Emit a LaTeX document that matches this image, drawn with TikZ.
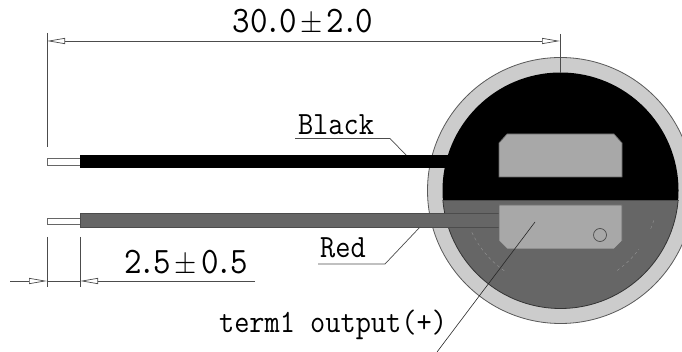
\documentclass[tikz,border=0pt]{standalone}
\usepackage{tikz}
\usetikzlibrary{positioning}
\usetikzlibrary{arrows.meta}
\tikzset{>={Triangle[open,fill=white,length=18pt,width=6pt]}}
\newcommand{\tallbox}[1]{\scalebox{1}[1.1]{#1}}
\newcommand{\plusminus}{\makebox[30pt]{\scalebox{1.15}{$\pm$}}}
\newcommand{\narrowdot}{\kern-3pt.\kern-3pt}

\begin{document}
\begin{tikzpicture}[x=1pt, y=-1pt, dimlabel/.style={inner sep=0pt, anchor=base, font=\fontsize{34}{34}\ttfamily}, wirelabel/.style={inner sep=0pt, anchor=base, font=\fontsize{29.5}{30}\ttfamily}, thin line/.style={draw=black!70, line width=0.7pt}, stub/.style={draw=black!60, fill=white, line width=0.9pt}, plate/.style={draw=black!60, fill=black!34, line width=0.7pt}, faint arc/.style={draw=black!42, line width=0.4pt, dashed}]

    \clip (0,0) rectangle (682,352);

    %Coordinates
    \coordinate (center) at (560.5,190.5);
    \coordinate (leftend) at (47,41);
    \coordinate (rightend) at (560,41);
    \coordinate (leftexttop) at (47,33);
    \coordinate (leftextbot) at (47,147);
    \coordinate (rightexttop) at (560,34);
    \coordinate (rightextbot) at (560,73);
    \coordinate (lenstart) at (47,281);
    \coordinate (lenstop) at (80,281);
    \coordinate (lenfarleft) at (10,281);
    \coordinate (lenfarright) at (255,281);
    \coordinate (stripa) at (47,237);
    \coordinate (stripb) at (47,287);
    \coordinate (stripc) at (80,237);
    \coordinate (stripd) at (80,287);

    %Body
    \draw[draw=black!65, fill=black!20, line width=0.8pt] (center) circle (133);
    \begin{scope}
        \clip (400,50) rectangle (682,200.7);
        \fill[black] (center) circle (118);
    \end{scope}
    \begin{scope}
        \clip (400,200.7) rectangle (682,352);
        \draw[draw=black!80, fill=black!60, line width=0.8pt] (center) circle (118);
        \draw[faint arc] (center) ++(154.7:98) arc (154.7:125:98);
        \draw[faint arc] (center) ++(54.7:98) arc (54.7:36.9:98);
        \draw[faint arc] (center) ++(23:98) arc (23:16.9:98);
    \end{scope}
    \draw[black!70, line width=0.6pt] (442.5,200.7) -- (678.5,200.7);

    %Wires
    \draw[stub] (47,158.5) rectangle (80,165.5);
    \draw[stub] (47,218.5) rectangle (80,224.5);
    \fill[black] (80,155) rectangle (470,168);
    \draw[draw=black!70, fill=black!60, line width=0.8pt] (80,213) rectangle (499,227);

    %Plates
    \draw[plate] (507,134) -- (614,134) -- (622,143) -- (622,177) -- (499,177) -- (499,143) -- cycle;
    \draw[plate] (499,205) -- (622,205) -- (622,241) -- (614,249) -- (507,249) -- (499,241) -- cycle;
    \draw[thin line] (600,235) circle (6.5);

    %Nodes
    \node[dimlabel](length) at (303,33){\tallbox{30\narrowdot0\plusminus2\narrowdot0}};
    \node[dimlabel](strip) at (186,274){\tallbox{2\narrowdot5\plusminus0\narrowdot5}};
    \node[wirelabel](black) at (336,135){\tallbox{Black}};
    \node[wirelabel](red) at (343,258){\tallbox{Red}};
    \node[wirelabel](term) at (333,332){\tallbox{term1 output(+)}};

    %Lines
    \draw[thin line] (leftexttop) -- (leftextbot);
    \draw[thin line] (rightexttop) -- (rightextbot);
    \draw[thin line, <->] (leftend) -- (rightend);
    \draw[thin line] (stripa) -- (stripb);
    \draw[thin line] (stripc) -- (stripd);
    \draw[thin line, ->] (lenfarleft) -- (lenstart);
    \draw[thin line] (lenstart) -- (lenstop);
    \draw[thin line, ->] (lenfarright) -- (lenstop);
    \draw[thin line] (295,138.5) -- (390,138.5) -- (406,155);
    \draw[thin line] (318,264) -- (385,264) -- (420,227);
    \draw[black!85, line width=0.6pt] (535,222) -- (437,352);

\end{tikzpicture}
\end{document}
